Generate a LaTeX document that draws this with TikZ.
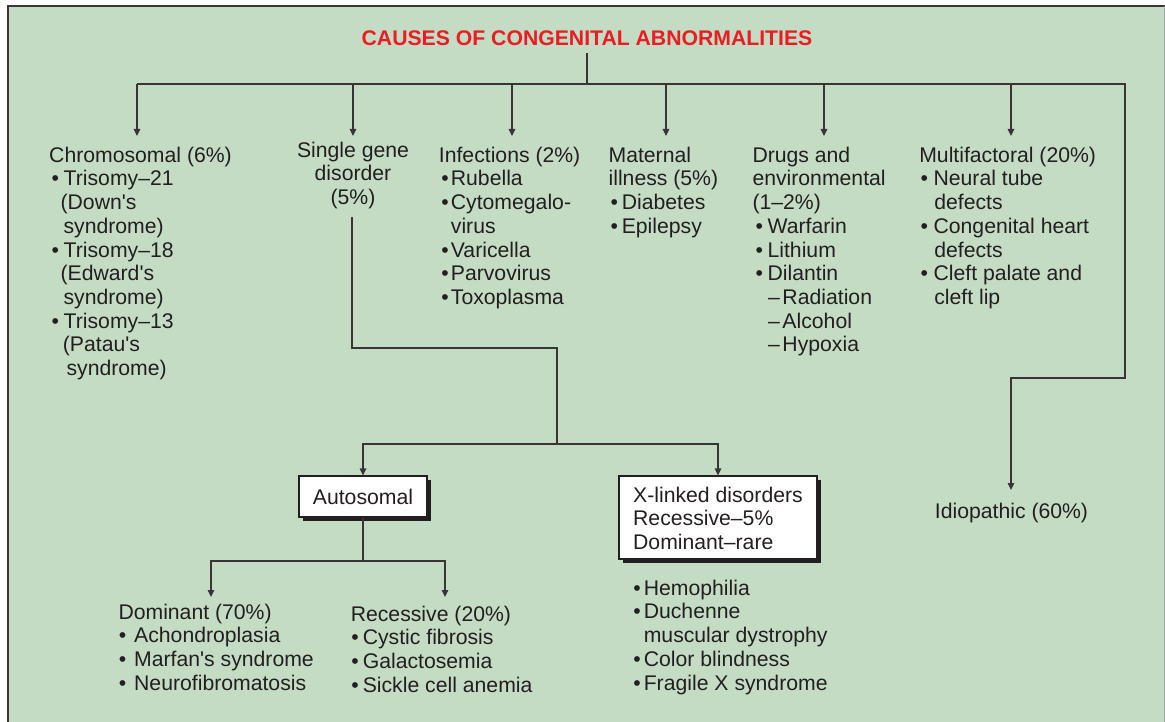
\documentclass[tikz,border=0pt]{standalone}
\usepackage{fontspec}
\setmainfont{Liberation Sans}[Ligatures=TeXOff]
\usetikzlibrary{arrows.meta,shadows}
\definecolor{bggreen}{RGB}{196,220,195}
\definecolor{ink}{RGB}{35,31,32}
\definecolor{titlered}{RGB}{237,28,36}
\definecolor{framegray}{RGB}{55,55,55}
\newcommand{\fs}{\rule{0pt}{17pt}}
\newcommand{\bi}[3][0pt]{\makebox[#2][l]{\hspace*{#1}•}#3}
\newcommand{\ind}[1]{\hspace*{#1}}
\begin{document}
\begin{tikzpicture}[x=1pt,y=-1pt,
  txt/.style={inner sep=0pt, anchor=north west, align=left, text=ink, font=\fontsize{21.2}{23.7}\selectfont},
  line/.style={draw=ink!90, line width=1.2pt},
  arr/.style={line, -{Triangle[width=6.5pt,length=7pt]}},
  boxed/.style={draw=ink, line width=1.2pt, fill=white, text=ink, inner sep=0pt,
    font=\fontsize{21.2}{23.7}\selectfont,
    drop shadow={shadow xshift=4pt,shadow yshift=-4pt,opacity=1,fill=ink}}]
\useasboundingbox (0,0) rectangle (1165,722);
\fill[white] (0,0) rectangle (1165,722);
\fill[bggreen] (7.7,5.7) rectangle (1165,722);
\draw[framegray, line width=2pt] (7.7,722) -- (7.7,5.7) -- (1165,5.7);
\draw[gray!70, line width=1pt] (1164.5,5.7) -- (1164.5,722);

% title
\node[anchor=base, inner sep=0pt, text=titlered, font=\bfseries\fontsize{21.2}{24}\selectfont] (title) at (587,46) {CAUSES OF CONGENITAL ABNORMALITIES};

% first level texts
\node[txt] (chrom) at (49,145) {\fs Chromosomal (6\%)\\
\bi[2.4pt]{14.5pt}{Trisomy–21}\\
\ind{11.4pt}(Down's\\
\ind{14.4pt}syndrome)\\
\bi[2.4pt]{14.5pt}{Trisomy–18}\\
\ind{11.4pt}(Edward's\\
\ind{14.4pt}syndrome)\\
\bi[2.4pt]{14.5pt}{Trisomy–13}\\
\ind{13.7pt}(Patau's\\
\ind{17.4pt}syndrome)};

\node[txt, anchor=north, align=center] (single) at (353,140) {\fs Single gene\\ disorder\\ (5\%)};

\node[txt] (infect) at (438.7,145) {\fs Infections (2\%)\\
\bi[2.5pt]{12pt}{Rubella}\\
\bi[2.5pt]{12pt}{Cytomegalo-}\\
\ind{12pt}virus\\
\bi[2.5pt]{12pt}{Varicella}\\
\bi[2.5pt]{12pt}{Parvovirus}\\
\bi[2.5pt]{12pt}{Toxoplasma}};

\node[txt] (maternal) at (608.4,145) {\fs Maternal\\
illness (5\%)\\
\bi[2pt]{13.2pt}{Diabetes}\\
\bi[2pt]{13.2pt}{Epilepsy}};

\node[txt] (drugs) at (752.3,145) {\fs Drugs and\\
environmental\\
(1–2\%)\\
\bi[3.1pt]{15.1pt}{Warfarin}\\
\bi[3.1pt]{15.1pt}{Lithium}\\
\bi[3.1pt]{15.1pt}{Dilantin}\\
\ind{15.7pt}\makebox[14.3pt][l]{–}Radiation\\
\ind{15.7pt}\makebox[14.3pt][l]{–}Alcohol\\
\ind{15.7pt}\makebox[14.3pt][l]{–}Hypoxia};

\node[txt] (multi) at (919.1,145) {\fs Multifactoral (20\%)\\
\bi[1.3pt]{14.3pt}{Neural tube}\\
\ind{15pt}defects\\
\bi[1.3pt]{14.3pt}{Congenital heart}\\
\ind{15pt}defects\\
\bi[1.3pt]{14.3pt}{Cleft palate and}\\
\ind{15pt}cleft lip};

\node[txt] (idio) at (934.7,501) {\fs Idiopathic (60\%)};

% boxes
\node[boxed, minimum width=128pt, minimum height=41pt] (auto) at (363,496.5) {Autosomal};
\node[boxed, align=left, minimum width=198pt, minimum height=83pt] (xlink) at (718,517.5) {\fs X-linked disorders\\ Recessive–5\%\\ Dominant–rare};

% lower lists
\node[txt] (dom) at (118.3,602) {\fs Dominant (70\%)\\
\bi[0.4pt]{15.7pt}{Achondroplasia}\\
\bi[0.4pt]{15.7pt}{Marfan's syndrome}\\
\bi[0.4pt]{15.7pt}{Neurofibromatosis}};

\node[txt] (rec) at (350.6,604) {\fs Recessive (20\%)\\
\bi[0.6pt]{12pt}{Cystic fibrosis}\\
\bi[0.6pt]{12pt}{Galactosemia}\\
\bi[0.6pt]{12pt}{Sickle cell anemia}};

\node[txt] (xlist) at (633.2,578) {\fs \bi{10.4pt}{Hemophilia}\\
\bi{10.4pt}{Duchenne}\\
\ind{10.4pt}muscular dystrophy\\
\bi{10.4pt}{Color blindness}\\
\bi{10.4pt}{Fragile X syndrome}};

% coordinates
\coordinate (hub) at (587,84);
\coordinate (hR) at (1125,84);
\coordinate (kR) at (1011,378);
\coordinate (tIdio) at (1011,490);
\coordinate (tChrom) at (137,136);
\coordinate (tSingle) at (353,136);
\coordinate (tInfect) at (512,136);
\coordinate (tMat) at (666,136);
\coordinate (tDrugs) at (824,136);
\coordinate (tMulti) at (1011,136);
\coordinate (sg1) at (352,348);
\coordinate (sg2) at (557,444);
\coordinate (jn) at (363,561);
\coordinate (tDom) at (211,597);
\coordinate (tRec) at (445,597);

% connectors
\draw[line] ([yshift=-7pt]title.south) -- (hub);
\draw[arr] (tChrom |- hub) -- (hR) |- (kR) -- (tIdio);
\draw[arr] (tChrom |- hub) -- (tChrom);
\draw[arr] (tSingle |- hub) -- (tSingle);
\draw[arr] (tInfect |- hub) -- (tInfect);
\draw[arr] (tMat |- hub) -- (tMat);
\draw[arr] (tDrugs |- hub) -- (tDrugs);
\draw[arr] (tMulti |- hub) -- (tMulti);

\draw[line] (sg1 |- single.south) ++(0,8) -- (sg1) -| (sg2);
\draw[arr] (sg2) -| (auto.north);
\draw[arr] (sg2) -| (xlink.north);

\draw[line] (auto.south) -- (jn);
\draw[arr] (jn) -| (tDom);
\draw[arr] (jn) -| (tRec);
\end{tikzpicture}
\end{document}
